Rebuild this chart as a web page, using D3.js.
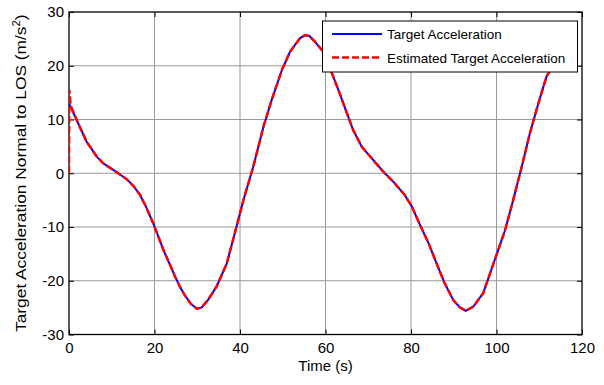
<!DOCTYPE html>
<html>
<head>
<meta charset="utf-8">
<script src="https://cdn.jsdelivr.net/npm/d3@7"></script>
<style>
  html, body { margin: 0; padding: 0; background: #fff; }
  svg { display: block; font-family: Arial, "Liberation Sans", sans-serif; }
</style>
</head>
<body>
<svg id="chart" width="604" height="385"></svg>
<script>
// Time samples (s) and true target acceleration normal to LOS (m/s^2)
const timeS = [0, 1.8, 4.1, 6.5, 8, 10, 11.5, 13.5, 15, 16.6, 18, 19.7, 21, 22.1, 23.5, 24.8, 26, 27.1, 28.5, 29.9,
  31, 32.5, 34.5, 36.9, 39.2, 40.8, 43.1, 45.5, 47.4, 49.8, 51.7, 54, 55.2, 56.3, 57.5, 59.5, 61.8, 63.3, 65, 66.5,
  68.5, 70.8, 73.5, 75.9, 78.5, 80.2, 82.1, 84.1, 86, 87.9, 89.9, 91.5, 92.8, 94.6, 96.9, 99.6, 102, 103.9, 105.9,
  107.8, 109.8, 111.7, 112.5, 114, 115.5];
const targetAccel = [13, 9.9, 5.9, 3.1, 1.85, 0.8, 0, -1.1, -2.3, -4.0, -6.2, -9.3, -12.0, -14.3, -16.8, -19.2, -21.2, -22.7, -24.3, -25.2,
  -25.0, -23.6, -21.1, -16.8, -9.9, -5.0, 1.2, 8.7, 13.6, 19.2, 22.6, 25.1, 25.7, 25.5, 24.5, 22.6, 18, 14.9, 11.2, 8.0,
  4.9, 2.8, 0.3, -1.6, -4.0, -6.2, -9.6, -13.0, -16.8, -20.5, -23.6, -25.0, -25.6, -24.8, -22.3, -16.1, -10.6, -5.0, 1.2,
  7.4, 13.0, 18.0, 19.0, 21.5, 23.5];

// Estimator output: starts at zero, overshoots, then tracks the true value
const estTimeS = [0, 0.08, 0.4, 1.8, 4.1, 6.5, 8, 10, 11.5, 13.5, 15, 16.6, 18, 19.7, 21, 22.1, 23.5, 24.8, 26, 27.1, 28.5, 29.9,
  31, 32.5, 34.5, 36.9, 39.2, 40.8, 43.1, 45.5, 47.4, 49.8, 51.7, 54, 55.2, 56.3, 57.5, 59.5, 61.8, 63.3, 65, 66.5,
  68.5, 70.8, 73.5, 75.9, 78.5, 80.2, 82.1, 84.1, 86, 87.9, 89.9, 91.5, 92.8, 94.6, 96.9, 99.6, 102, 103.9, 105.9,
  107.8, 109.8, 111.7, 112.5, 114, 115.5];
const estAccel = [0, 15.5, 12.6, 9.9, 5.9, 3.1, 1.85, 0.8, 0, -1.1, -2.3, -4.0, -6.2, -9.3, -12.0, -14.3, -16.8, -19.2, -21.2, -22.7, -24.3, -25.2,
  -25.0, -23.6, -21.1, -16.8, -9.9, -5.0, 1.2, 8.7, 13.6, 19.2, 22.6, 25.1, 25.7, 25.5, 24.5, 22.6, 18, 14.9, 11.2, 8.0,
  4.9, 2.8, 0.3, -1.6, -4.0, -6.2, -9.6, -13.0, -16.8, -20.5, -23.6, -25.0, -25.6, -24.8, -22.3, -16.1, -10.6, -5.0, 1.2,
  7.4, 13.0, 18.0, 19.0, 21.5, 23.5];

const xTicks = [0, 20, 40, 60, 80, 100, 120];
const yTicks = [-30, -20, -10, 0, 10, 20, 30];
const legendLabels = ["Target Acceleration", "Estimated Target Acceleration"];

const svg = d3.select("#chart");
const plotL = 69, plotR = 582, plotT = 12, plotB = 334.5;

const x = d3.scaleLinear().domain([0, 120]).range([plotL, plotR]);
const y = d3.scaleLinear().domain([-30, 30]).range([plotB, plotT]);

svg.append("defs").append("clipPath").attr("id", "plotClip")
  .append("rect").attr("x", plotL).attr("y", plotT).attr("width", plotR - plotL).attr("height", plotB - plotT);

// Grid
const grid = svg.append("g").attr("stroke", "#999").attr("stroke-width", 1);
grid.selectAll("line.gx").data(xTicks.slice(1, -1)).join("line")
  .attr("x1", d => x(d)).attr("x2", d => x(d)).attr("y1", plotT).attr("y2", plotB);
grid.selectAll("line.gy").data(yTicks.slice(1, -1)).join("line")
  .attr("x1", plotL).attr("x2", plotR).attr("y1", d => y(d)).attr("y2", d => y(d));

// Axes with inward ticks on all four sides
const tickLen = 5;
const fmt = d => String(d);
const axB = svg.append("g").attr("transform", `translate(0,${plotB})`)
  .call(d3.axisBottom(x).tickValues(xTicks).tickSizeInner(-tickLen).tickSizeOuter(0).tickPadding(8).tickFormat(fmt));
const axT = svg.append("g").attr("transform", `translate(0,${plotT})`)
  .call(d3.axisTop(x).tickValues(xTicks).tickSizeInner(-tickLen).tickSizeOuter(0).tickFormat(""));
const axL = svg.append("g").attr("transform", `translate(${plotL},0)`)
  .call(d3.axisLeft(y).tickValues(yTicks).tickSizeInner(-tickLen).tickSizeOuter(0).tickPadding(5).tickFormat(fmt));
const axR = svg.append("g").attr("transform", `translate(${plotR},0)`)
  .call(d3.axisRight(y).tickValues(yTicks).tickSizeInner(-tickLen).tickSizeOuter(0).tickFormat(""));
[axB, axT, axL, axR].forEach(a => {
  a.select(".domain").remove();
  a.selectAll(".tick line").attr("stroke", "#000");
  a.selectAll("text").attr("font-size", 15).attr("fill", "#000")
    .attr("font-family", "Arial, 'Liberation Sans', sans-serif");
});

svg.append("rect").attr("x", plotL).attr("y", plotT).attr("width", plotR - plotL).attr("height", plotB - plotT)
  .attr("fill", "none").attr("stroke", "#000").attr("stroke-width", 1.3);

// Series
const plot = svg.append("g").attr("clip-path", "url(#plotClip)");
const line = d3.line().x(d => x(d[0])).y(d => y(d[1]));
plot.append("path").datum(d3.zip(timeS, targetAccel))
  .attr("d", line).attr("fill", "none").attr("stroke", "#0000ff").attr("stroke-width", 2);
plot.append("path").datum(d3.zip(estTimeS, estAccel))
  .attr("d", line).attr("fill", "none").attr("stroke", "#ff0000").attr("stroke-width", 2.5)
  .attr("stroke-dasharray", "7,3");

// Axis titles
svg.append("text").attr("x", (plotL + plotR) / 2).attr("y", 370.5).attr("text-anchor", "middle")
  .attr("font-size", 15).text("Time (s)");
const yl = svg.append("text")
  .attr("transform", `translate(26,${(plotT + plotB) / 2}) rotate(-90) scale(1.12,1)`)
  .attr("text-anchor", "middle").attr("font-size", 15.5);
yl.append("tspan").text("Target Acceleration Normal to LOS (m/s");
yl.append("tspan").attr("font-size", 10).attr("dy", -6).text("2");
yl.append("tspan").attr("dy", 6).text(")");

// Legend
const lg = svg.append("g");
lg.append("rect").attr("x", 322.5).attr("y", 21).attr("width", 255).attr("height", 51)
  .attr("fill", "#fff").attr("stroke", "#000").attr("stroke-width", 1);
const rows = [{ c: "#0000ff", w: 2, dash: null, cy: 34 }, { c: "#ff0000", w: 2.5, dash: "7,3", cy: 57.5 }];
rows.forEach((r, i) => {
  lg.append("line").attr("x1", 332).attr("x2", 382).attr("y1", r.cy).attr("y2", r.cy)
    .attr("stroke", r.c).attr("stroke-width", r.w).attr("stroke-dasharray", r.dash);
  lg.append("text").attr("x", 387).attr("y", r.cy + 5).attr("font-size", 13.5).text(legendLabels[i]);
});
</script>
</body>
</html>
